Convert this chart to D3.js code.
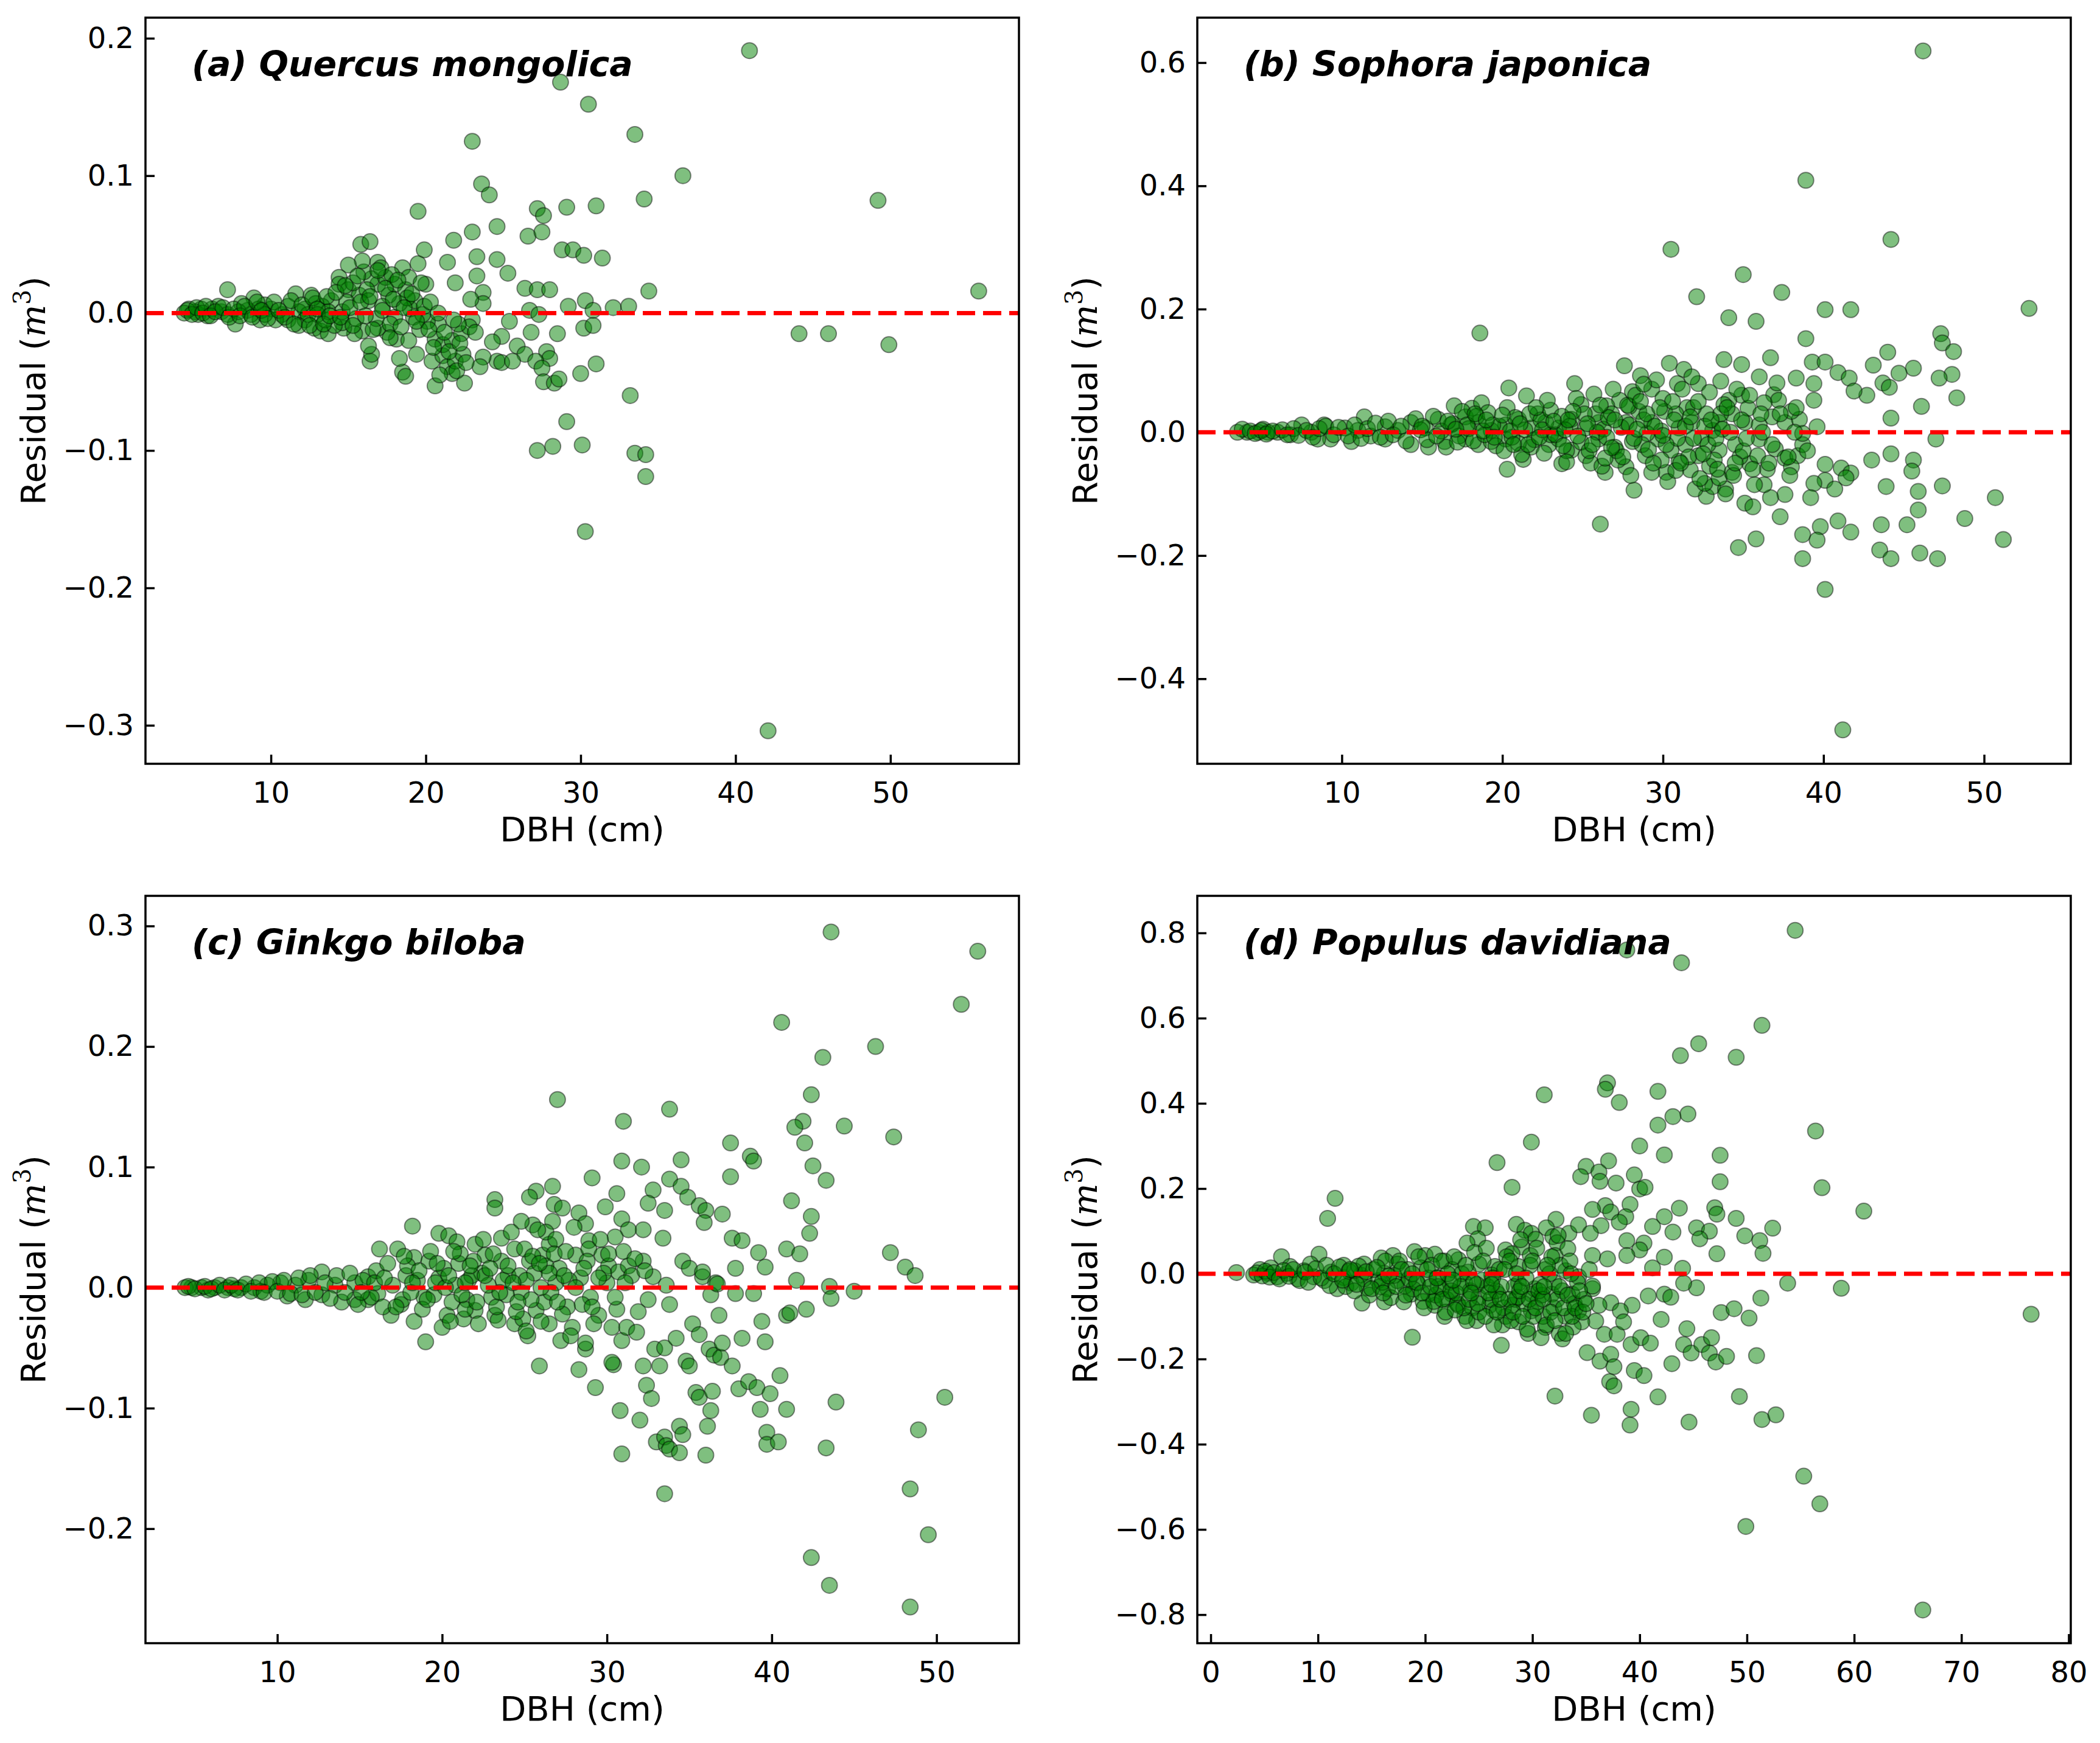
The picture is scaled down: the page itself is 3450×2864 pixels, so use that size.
<!DOCTYPE html>
<html>
<head>
<meta charset="utf-8">
<script src="https://cdn.jsdelivr.net/npm/d3@7"></script>
<style>
  body { margin: 0; background: #fff; }
  text { font-family: "DejaVu Sans", sans-serif; fill: #000; }
</style>
</head>
<body>
<svg id="chart"></svg>
<script>
// panel titles
var panelTitles = ["(a) Quercus mongolica", "(b) Sophora japonica", "(c) Ginkgo biloba", "(d) Populus davidiana"];

// [DBH (cm), residual (m3)]
var quercus = [
  [40.9,0.191],[28.7,0.168],[30.5,0.152],[23.0,0.125],[33.5,0.130],[36.6,0.100],[23.6,0.094],[24.1,0.086],[34.1,0.083],[49.2,0.082],
  [19.5,0.074],[27.2,0.076],[27.6,0.071],[29.1,0.077],[31.0,0.078],[23.0,0.059],[24.6,0.063],[26.6,0.056],[27.5,0.059],[21.8,0.053],
  [15.8,0.050],[16.4,0.052],[19.9,0.046],[28.8,0.046],[29.5,0.046],[30.2,0.042],[31.4,0.040],[21.4,0.037],[23.3,0.041],[24.6,0.039],
  [19.5,0.036],[25.3,0.029],[23.3,0.027],[21.9,0.022],[20.0,0.021],[18.5,0.033],[55.7,0.016],[34.4,0.016],[26.4,0.018],[27.2,0.017],
  [28.0,0.017],[23.7,0.015],[23.7,0.007],[30.3,0.009],[29.2,0.005],[30.8,0.002],[32.1,0.004],[33.1,0.005],[26.7,0.002],[27.3,-0.001],
  [25.4,-0.006],[23.0,-0.005],[44.1,-0.015],[46.0,-0.015],[49.9,-0.023],[30.2,-0.011],[30.8,-0.009],[28.5,-0.015],[26.8,-0.014],[25.9,-0.024],
  [24.9,-0.017],[24.3,-0.021],[26.4,-0.030],[27.8,-0.028],[28.0,-0.033],[27.1,-0.035],[31.0,-0.037],[24.6,-0.035],[24.9,-0.036],[23.7,-0.032],
  [23.5,-0.039],[27.5,-0.040],[30.0,-0.044],[27.6,-0.050],[28.3,-0.051],[28.6,-0.048],[22.5,-0.051],[20.6,-0.053],[33.2,-0.060],[29.1,-0.079],
  [27.2,-0.100],[28.2,-0.097],[30.1,-0.096],[33.5,-0.102],[34.2,-0.103],[34.2,-0.119],[30.3,-0.159],[42.1,-0.304],
  [18.5,-0.043],[18.7,-0.046],[16.4,-0.035],[16.5,-0.030],[16.3,-0.024],[19.4,-0.030],[20.4,-0.035],[21.1,-0.031],[21.4,-0.039],[21.7,-0.044],
  [21.9,-0.035],[20.6,-0.019],[21.1,-0.023],[21.7,-0.020],[22.3,-0.015],[22.8,-0.010],[22.1,-0.008],[20.8,-0.008],[20.1,-0.006],[18.3,-0.033],
  [18.1,-0.019],[17.5,-0.014],[16.9,-0.011],[15.9,-0.013],[15.4,-0.015],[14.7,-0.011],[14.6,-0.007],[15.5,-0.004],[16.8,-0.004],[18.0,-0.003],
  [19.2,-0.003],[19.8,-0.001],[19.0,0.003],[18.3,0.007],[17.6,0.013],[16.9,0.021],[16.5,0.025],[16.0,0.030],[15.9,0.038],[15.0,0.035],
  [16.9,0.037],[14.4,0.026],[14.4,0.021],[15.0,0.017],[15.7,0.013],[16.2,0.017],[17.4,0.026],[18.0,0.021],[18.7,0.017],[18.9,0.026],
  [19.3,0.009],[19.9,0.005],[13.9,0.009],[13.3,0.005],[12.6,0.013],[12.9,0.007],[12.2,0.003],[11.6,0.014],[11.8,0.001],[12.2,-0.005],
  [12.8,-0.011],[13.2,-0.013],[13.7,-0.015],[14.1,-0.009],[13.5,-0.005],[11.1,-0.005],[11.8,-0.009],[10.7,-0.001],[10.0,0.003],[9.6,0.006],
  [8.9,0.011],[9.2,0.003],[8.5,0.002],[8.1,0.007],[7.2,0.017],[7.7,-0.008],[9.3,-0.005],[10.3,-0.005],[6.8,0.001],[6.2,0.003],
  [5.5,0.003],[5.1,0.001],[4.7,0.003],[4.4,0.000],[5.3,-0.001],[5.9,-0.002],[6.6,0.005],[7.2,-0.001],[7.9,0.001],[8.7,-0.001],
  [9.6,-0.001],[11.1,0.005],[12.4,-0.001],[13.7,0.001],[14.6,0.001],[13.0,-0.001],[17.1,0.033],[17.8,0.028],[15.3,0.022],[14.9,0.008],
  [16.3,0.009],[17.2,0.005],[18.8,0.011],[17.7,-0.008],[19.6,-0.012],[20.3,0.008],[22.4,-0.030],[22.0,-0.042],[20.9,-0.045],[25.6,-0.035],
  [4.6,0.002],[4.9,-0.001],[5.2,0.004],[5.6,0.000],[5.8,0.005],[6.1,-0.002],[6.4,0.001],[6.9,0.004],[7.3,-0.003],[7.6,0.003],
  [8.0,-0.002],[8.3,0.005],[8.8,-0.003],[9.1,0.008],[9.4,0.002],[9.8,-0.004],[10.2,0.008],[10.5,0.002],[10.9,-0.003],[11.3,0.009],
  [11.5,-0.008],[12.0,0.006],[12.5,-0.009],[12.7,0.011],[13.0,0.003],[13.4,-0.008],[13.6,0.012],[13.8,-0.002],[14.2,0.015],[14.5,-0.003],
  [14.8,0.020],[15.1,0.004],[15.3,-0.009],[15.6,0.027],[15.8,0.008],[16.1,-0.002],[16.4,0.012],[16.6,-0.012],[16.9,0.031],[17.2,0.002],
  [17.4,0.018],[17.7,-0.018],[17.9,0.010],[18.2,0.024],[18.4,-0.010],[18.6,0.004],[18.9,-0.020],[19.1,0.014],[19.4,-0.006],[19.7,0.022],
  [20.2,-0.012],[20.5,-0.025],[20.8,0.000],[21.2,-0.014],[21.5,-0.028],[21.8,-0.005],[22.2,-0.022],[22.6,-0.036],[22.9,0.010],[23.2,-0.014]
];

var sophora = [
  [46.2,0.619],[38.9,0.409],[30.5,0.297],[44.2,0.313],[35.0,0.256],[32.1,0.220],[37.4,0.227],[52.8,0.201],[40.1,0.199],[41.7,0.199],
  [18.6,0.161],[34.1,0.186],[35.8,0.180],[38.9,0.152],[47.3,0.160],[47.4,0.145],[48.1,0.131],[44.0,0.130],[36.7,0.121],[33.8,0.118],
  [30.4,0.112],[34.9,0.110],[39.3,0.114],[40.1,0.114],[43.1,0.109],[45.6,0.104],[44.7,0.096],[40.9,0.097],[41.6,0.088],[48.0,0.094],
  [47.2,0.088],[31.3,0.102],[27.6,0.108],[28.6,0.092],[36.0,0.090],[38.3,0.088],[33.6,0.083],[32.2,0.079],[24.5,0.079],[39.4,0.079],
  [43.7,0.080],[42.7,0.060],[41.9,0.067],[48.3,0.056],[44.1,0.073],[39.4,0.052],[36.9,0.061],[37.2,0.052],[34.9,0.060],[34.1,0.052],
  [30.9,0.079],[20.4,0.072],[21.5,0.059],[29.3,0.070],[28.1,0.066],[27.3,0.052],[26.5,0.043],[46.1,0.042],[44.2,0.023],[39.6,0.009],
  [47.0,-0.011],[44.2,-0.035],[45.6,-0.045],[45.5,-0.063],[43.0,-0.045],[40.1,-0.052],[41.1,-0.058],[40.1,-0.078],[41.7,-0.066],[41.4,-0.074],
  [40.7,-0.092],[47.4,-0.087],[45.9,-0.096],[50.7,-0.106],[43.9,-0.088],[45.9,-0.126],[39.4,-0.083],[39.2,-0.106],[48.8,-0.140],[37.3,-0.137],
  [39.8,-0.153],[43.6,-0.150],[45.2,-0.150],[40.9,-0.144],[41.7,-0.162],[38.7,-0.166],[39.6,-0.175],[51.2,-0.174],[35.8,-0.173],[34.7,-0.187],
  [43.5,-0.191],[46.0,-0.196],[38.7,-0.205],[44.2,-0.205],[47.1,-0.205],[40.1,-0.255],[41.2,-0.483],[26.1,-0.149],[20.3,-0.060],[21.3,-0.044],
  [23.7,-0.051],[26.4,-0.065],[28.2,-0.094],[32.7,-0.104],[33.1,-0.088],[33.9,-0.092],[34.3,-0.065],[35.4,-0.051],[35.1,-0.115],[35.6,-0.121],
  [37.6,-0.101],[36.7,-0.106],[36.3,-0.085],[37.0,-0.027],[37.6,-0.042],[38.4,-0.038],[38.7,-0.020],[38.0,-0.056],[35.9,-0.038],[31.7,-0.061],
  [31.0,-0.047],[30.2,-0.065],[29.3,-0.065],[28.9,-0.038],[27.7,-0.056],[27.0,-0.024],[25.2,-0.038],[24.3,-0.029],[22.9,-0.020],[21.8,-0.024],
  [21.0,-0.018],[31.4,-0.020],[32.2,-0.038],[33.5,-0.029],[34.5,-0.020],[33.1,0.003],[31.8,0.016],[32.7,0.030],[33.5,0.016],[34.3,0.030],
  [35.1,0.016],[36.0,0.012],[36.8,0.025],[35.3,0.039],[36.3,0.048],[37.6,0.016],[38.5,0.021],[38.0,0.034],[36.0,-0.011],[38.7,-0.002],
  [31.0,0.007],[30.1,0.034],[29.3,0.016],[28.5,0.034],[27.7,0.016],[26.8,0.030],[26.0,0.016],[25.2,0.007],[24.3,0.021],[23.5,0.007],
  [22.7,0.016],[21.8,0.007],[21.0,0.021],[20.2,0.012],[19.3,0.003],[18.5,0.016],[17.7,0.025],[17.0,0.043],[18.1,0.039],[18.7,0.048],
  [16.8,0.012],[16.0,0.021],[15.2,0.007],[14.3,0.016],[13.5,0.003],[12.7,0.009],[11.8,-0.006],[11.4,0.025],[11.0,0.003],[10.2,0.007],
  [9.3,-0.011],[8.9,0.012],[8.1,0.000],[7.5,0.012],[6.8,-0.004],[6.0,0.000],[5.4,0.000],[4.8,0.000],[4.1,0.000],[3.5,0.000],
  [3.8,0.005],[5.1,0.005],[8.5,-0.011],[10.6,-0.015],[12.7,-0.011],[14.3,-0.020],[15.4,-0.024],[16.4,-0.015],[17.7,-0.011],[18.5,-0.020],
  [19.3,-0.015],[20.2,-0.011],[23.5,-0.011],[26.0,-0.011],[28.1,-0.015],[29.7,-0.011],[30.5,-0.029],[32.0,-0.092],[32.6,-0.083],[33.5,-0.074],
  [24.9,0.045],[25.8,0.030],[26.3,0.005],[27.9,0.042],[29.0,-0.002],[30.0,0.055],[31.5,0.040],[32.4,-0.010],[33.8,0.045],[34.8,-0.040],
  [22.2,0.030],[23.0,-0.004],[24.0,-0.030],[25.5,-0.050],[27.2,-0.045],[28.8,0.020],[29.9,-0.045],[30.8,0.030],[32.9,-0.055],[36.5,-0.060],
  [4.3,0.002],[4.6,-0.002],[5.0,0.003],[5.3,-0.003],[5.7,0.002],[6.3,0.004],[6.6,-0.004],[7.0,0.006],[7.3,-0.005],[7.8,0.003],
  [8.2,-0.008],[8.6,0.006],[9.0,0.010],[9.5,-0.004],[9.8,0.008],[10.4,-0.006],[10.8,0.012],[11.2,-0.010],[11.6,0.006],[12.1,0.015],
  [12.4,-0.008],[12.9,0.018],[13.2,-0.004],[13.7,0.010],[14.0,-0.014],[14.6,0.022],[14.9,0.004],[15.3,-0.012],[15.7,0.026],[16.2,0.002],
  [16.5,-0.024],[16.9,0.014],[17.3,-0.006],[17.5,0.034],[17.9,0.006],[18.2,-0.014],[18.4,0.026],[18.9,-0.004],[19.1,0.032],[19.6,-0.022],
  [19.8,0.010],[20.3,0.040],[20.6,-0.008],[20.8,0.024],[21.2,-0.036],[21.4,0.004],[21.7,0.030],[22.0,-0.012],[22.4,0.020],[22.6,-0.034],
  [23.0,0.036],[23.3,-0.004],[23.7,0.026],[24.0,-0.048],[24.2,0.010],[24.6,0.055],[24.9,-0.016],[25.1,0.030],[25.4,-0.030],[25.7,0.062],
  [25.9,0.000],[26.2,-0.055],[26.6,0.024],[26.9,0.070],[27.1,-0.030],[27.4,0.008],[27.8,0.044],[28.0,-0.070],[28.3,0.060],[28.7,-0.020],
  [29.0,0.030],[29.4,-0.050],[29.6,0.085],[29.9,0.002],[30.3,-0.080],[30.6,0.050],[30.9,-0.010],[31.2,0.070],[31.6,-0.040],[31.9,0.040],
  [32.3,-0.075],[32.6,0.010],[32.9,0.065],[33.2,-0.045],[33.6,0.030],[33.9,-0.100],[34.2,0.000],[34.6,0.070],[35.0,-0.030],[35.4,0.060],
  [35.7,-0.085],[36.1,0.030],[36.6,-0.050],[37.1,0.080],[37.9,-0.070],[38.3,0.040],[39.0,-0.030],[20.1,-0.030],[22.8,0.052],[26.4,-0.042],
  [28.8,0.078],[30.8,-0.062],[31.8,0.090],[32.8,-0.020],[34.4,-0.070],[23.9,0.004],[19.4,0.012],
  [15.0,0.010],[15.9,-0.006],[16.6,0.018],[17.2,-0.016],[17.8,0.012],[18.3,0.030],[18.8,0.002],[19.5,-0.008],[20.0,0.028],[20.5,0.002],
  [21.1,0.014],[21.6,-0.020],[22.1,0.040],[22.5,0.004],[23.2,0.018],[23.8,-0.022],[24.4,0.034],[24.7,-0.006],[25.3,0.014],[25.6,-0.020],
  [26.1,0.044],[26.5,-0.008],[27.0,0.020],[27.5,-0.040],[27.9,0.012],[28.2,-0.010],[28.6,0.050],[29.1,-0.028],[29.5,0.010],[29.8,0.040],
  [30.2,-0.020],[30.7,0.020],[31.1,-0.050],[31.4,0.010],[31.9,-0.010],[32.2,0.050],[32.5,-0.035],[33.0,0.020],[33.4,-0.060],[33.7,0.005],
  [34.0,0.040],[34.5,-0.050],[34.9,0.020],[35.2,-0.010],[35.6,-0.060],[36.2,0.000],[36.8,-0.020],[37.3,0.030],[37.8,-0.040],[38.2,0.000],
  [26.8,-0.025],[28.4,0.005],[30.0,-0.005],[31.7,0.025],[33.3,-0.010],[24.1,0.020],[22.3,-0.008],[20.7,-0.020],[19.0,0.020],[17.1,0.005]
];

var ginkgo = [
  [43.6,0.295],[52.5,0.279],[51.5,0.235],[40.6,0.220],[46.3,0.200],[43.1,0.191],[42.4,0.160],[27.0,0.156],[33.8,0.148],[31.0,0.138],
  [41.9,0.138],[41.4,0.133],[44.4,0.134],[47.4,0.125],[37.5,0.120],[42.0,0.120],[38.7,0.109],[38.9,0.105],[30.9,0.105],[34.5,0.106],
  [42.5,0.101],[32.1,0.100],[29.1,0.091],[33.8,0.090],[37.5,0.092],[43.3,0.089],[26.7,0.084],[32.8,0.081],[34.5,0.084],[25.7,0.080],
  [25.3,0.075],[30.6,0.078],[23.2,0.073],[23.2,0.066],[34.9,0.075],[41.2,0.072],[26.8,0.069],[27.3,0.066],[29.9,0.067],[32.5,0.070],
  [33.5,0.064],[35.6,0.068],[36.0,0.064],[37.0,0.061],[26.7,0.055],[28.3,0.062],[25.5,0.052],[30.9,0.057],[42.4,0.059],[35.9,0.054],
  [28.7,0.053],[18.2,0.051],[19.8,0.045],[20.4,0.043],[32.2,0.048],[31.3,0.048],[42.3,0.045],[37.6,0.041],[38.2,0.039],[33.4,0.041],
  [28.9,0.039],[30.5,0.042],[39.2,0.029],[40.9,0.032],[41.7,0.028],[47.2,0.029],[48.1,0.017],[48.7,0.010],[39.6,0.017],[37.8,0.016],
  [34.6,0.022],[35.0,0.016],[41.5,0.006],[43.5,0.001],[45.0,-0.003],[43.6,-0.009],[16.2,0.032],[17.3,0.032],[18.3,0.025],[19.2,0.022],
  [21.0,0.020],[22.0,0.036],[22.6,0.027],[23.6,0.041],[24.4,0.032],[25.3,0.022],[26.1,0.027],[26.5,0.036],[27.1,0.016],[28.1,0.027],
  [28.9,0.032],[29.7,0.027],[30.1,0.018],[30.7,0.013],[31.3,0.018],[32.2,0.022],[32.8,0.009],[33.6,0.002],[35.8,0.009],[36.6,0.004],
  [36.3,-0.006],[37.8,-0.005],[14.7,0.004],[15.5,0.009],[13.5,0.002],[12.7,0.013],[11.9,0.006],[11.1,0.002],[10.2,0.004],[9.4,0.002],
  [8.6,0.000],[7.8,0.000],[7.0,0.000],[6.2,0.000],[5.4,0.000],[4.8,0.000],[4.4,0.000],[5.8,-0.002],[7.4,-0.001],[9.0,-0.003],
  [10.6,-0.007],[11.7,-0.010],[12.7,-0.006],[13.9,-0.012],[14.7,-0.010],[15.5,-0.010],[16.1,-0.005],[16.9,-0.023],[17.5,-0.014],[18.3,-0.028],
  [19.0,-0.045],[20.0,-0.033],[20.3,-0.023],[21.3,-0.026],[22.0,-0.019],[23.2,-0.023],[23.4,-0.027],[24.4,-0.030],[24.9,-0.026],[25.7,-0.019],
  [25.9,-0.065],[26.5,-0.030],[27.2,-0.044],[27.9,-0.033],[28.3,-0.068],[28.7,-0.051],[28.7,-0.046],[29.3,-0.083],[29.5,-0.023],[30.3,-0.033],
  [30.4,-0.064],[30.3,-0.062],[30.9,-0.044],[31.2,-0.033],[30.8,-0.102],[30.9,-0.138],[31.8,-0.037],[32.2,-0.065],[32.4,-0.081],[32.7,-0.092],
  [32.0,-0.110],[32.5,-0.010],[32.9,-0.051],[33.2,-0.065],[33.0,-0.128],[33.5,-0.124],[33.6,-0.131],[33.5,-0.171],[33.5,-0.050],[33.8,-0.014],
  [33.8,-0.134],[34.4,-0.137],[34.4,-0.115],[34.6,-0.122],[34.2,-0.042],[34.8,-0.061],[35.0,-0.065],[35.2,-0.030],[35.4,-0.087],[35.6,-0.039],
  [35.6,-0.091],[36.0,-0.139],[36.1,-0.115],[36.3,-0.102],[36.2,-0.051],[36.4,-0.086],[36.5,-0.056],[36.9,-0.058],[36.8,-0.023],[37.0,-0.046],
  [37.6,-0.065],[38.0,-0.084],[38.2,-0.042],[38.6,-0.078],[39.1,-0.083],[38.9,-0.005],[39.4,-0.028],[39.3,-0.101],[39.7,-0.120],[39.7,-0.130],
  [39.6,-0.045],[39.9,-0.088],[40.4,-0.128],[40.5,-0.073],[40.9,-0.101],[40.9,-0.023],[41.1,-0.021],[42.1,-0.018],[43.3,-0.133],[42.4,-0.224],
  [43.5,-0.247],[43.9,-0.095],[48.4,-0.167],[48.9,-0.118],[49.5,-0.205],[48.4,-0.265],[50.5,-0.091],[35.8,0.013],[36.7,0.003],
  [17.8,0.010],[18.9,-0.008],[19.8,0.008],[20.6,-0.012],[21.6,0.006],[22.4,0.012],[23.0,-0.008],[24.0,0.010],[24.8,-0.004],[25.6,0.012],
  [26.2,-0.012],[26.9,0.004],[27.6,-0.016],[28.4,0.008],[29.0,-0.008],[20.9,0.038],[24.8,0.055],[26.3,0.046],[21.5,-0.010],[25.2,-0.040],
  [4.6,0.001],[5.0,-0.001],[5.6,0.001],[6.0,-0.001],[6.5,0.002],[6.8,-0.002],[7.2,0.002],[7.6,-0.002],[8.1,0.003],[8.4,-0.003],
  [8.9,0.004],[9.2,-0.004],[9.7,0.005],[10.0,-0.003],[10.4,0.006],[10.8,-0.005],[11.3,0.008],[11.5,-0.006],[12.0,0.010],[12.3,-0.004],
  [12.9,0.004],[13.2,-0.009],[13.6,0.010],[14.1,-0.004],[14.4,0.012],[14.9,-0.014],[15.2,0.006],[15.7,-0.008],[16.0,0.014],[16.4,-0.016],
  [16.7,0.020],[17.0,0.002],[17.6,-0.010],[17.9,0.018],[18.5,0.006],[18.8,-0.018],[19.3,0.030],[19.5,-0.006],[20.1,0.016],[20.5,-0.028],
  [20.8,0.002],[21.1,0.028],[21.4,-0.018],[21.8,0.010],[22.2,-0.030],[22.5,0.040],[22.8,0.002],[23.3,-0.016],[23.6,0.022],[23.9,-0.006],
  [24.2,0.046],[24.5,-0.020],[24.7,0.010],[25.0,0.032],[25.4,-0.010],[25.8,0.048],[26.0,-0.028],[26.3,0.018],[26.6,-0.004],[26.9,0.040],
  [27.3,-0.022],[27.7,0.006],[28.0,0.050],[28.5,-0.014],[28.8,0.022],[29.2,-0.030],[29.6,0.040],[30.0,0.004],[30.6,-0.018],[31.0,0.030],
  [31.5,0.010],[31.9,-0.020],[32.3,0.014],[19.6,0.004],[21.9,0.022],[23.7,0.006],[25.1,-0.036],[26.8,0.028],[27.8,-0.040],[29.8,0.012],
  [15.1,-0.004],[15.9,0.004],[16.5,0.008],[17.2,-0.016],[17.7,0.026],[18.1,-0.004],[18.6,0.014],[19.1,-0.010],[19.7,0.020],[20.2,0.000],
  [20.7,0.030],[21.2,-0.006],[21.7,0.018],[22.1,-0.012],[22.6,0.010],[23.1,0.028],[23.5,-0.004],[24.0,0.018],[24.6,-0.012],[25.1,0.006],
  [25.5,0.026],[26.0,0.000],[26.5,0.012],[27.0,-0.012],[27.5,0.030],[28.1,0.000],[28.6,0.016],[29.1,-0.016],[29.5,0.008],[30.1,0.028],
  [30.5,-0.008],[31.1,0.004],[31.7,0.024],[22.9,0.016],[24.3,0.004],[25.9,0.020],[27.4,0.010],[20.4,0.010],[21.4,0.004],[18.2,0.004]
];

var populus = [
  [54.5,0.806],[38.8,0.760],[43.9,0.730],[51.4,0.583],[45.5,0.540],[43.8,0.512],[49.0,0.508],[37.0,0.448],[36.8,0.433],[31.1,0.420],
  [41.7,0.428],[38.1,0.402],[44.5,0.375],[43.1,0.369],[41.7,0.349],[56.4,0.335],[29.9,0.309],[40.0,0.300],[47.5,0.278],[42.3,0.279],
  [26.7,0.261],[37.1,0.265],[35.0,0.252],[34.5,0.228],[36.2,0.239],[39.5,0.232],[36.3,0.217],[37.8,0.213],[47.5,0.216],[28.1,0.203],
  [57.0,0.202],[40.0,0.199],[40.5,0.203],[11.6,0.177],[10.9,0.130],[60.9,0.147],[39.1,0.163],[36.8,0.160],[35.6,0.151],[43.7,0.154],
  [47.0,0.155],[47.2,0.140],[37.3,0.145],[38.7,0.134],[38.1,0.121],[36.4,0.113],[42.3,0.134],[41.2,0.111],[45.3,0.108],[52.4,0.107],
  [49.0,0.130],[46.5,0.100],[43.1,0.098],[32.2,0.128],[31.3,0.108],[24.5,0.111],[25.6,0.108],[28.5,0.116],[29.3,0.102],[29.9,0.095],
  [33.4,0.095],[34.3,0.115],[35.4,0.095],[31.9,0.087],[32.3,0.073],[30.3,0.081],[24.9,0.082],[23.9,0.072],[29.0,0.063],[27.5,0.056],
  [28.1,0.047],[29.8,0.043],[32.1,0.043],[33.3,0.059],[38.8,0.078],[40.4,0.072],[40.0,0.056],[38.8,0.043],[49.8,0.089],[51.2,0.078],
  [51.5,0.048],[47.2,0.047],[45.6,0.082],[42.3,0.039],[44.0,0.013],[41.2,0.014],[37.0,0.035],[35.6,0.043],[53.8,-0.022],[58.8,-0.034],
  [76.5,-0.095],[51.3,-0.057],[45.3,-0.033],[44.1,-0.022],[42.3,-0.048],[42.9,-0.055],[40.8,-0.052],[39.3,-0.074],[37.3,-0.068],[38.2,-0.087],
  [35.6,-0.035],[36.2,-0.074],[47.6,-0.091],[48.8,-0.082],[50.2,-0.104],[42.0,-0.107],[44.4,-0.129],[35.9,-0.111],[36.7,-0.142],[37.9,-0.142],
  [38.5,-0.113],[39.2,-0.166],[40.1,-0.150],[41.0,-0.163],[44.1,-0.166],[44.8,-0.186],[45.8,-0.166],[46.7,-0.150],[46.5,-0.186],[47.1,-0.207],
  [48.1,-0.194],[50.9,-0.192],[35.1,-0.185],[36.3,-0.205],[37.3,-0.189],[37.6,-0.218],[37.2,-0.253],[37.6,-0.263],[39.5,-0.227],[40.4,-0.239],
  [43.0,-0.211],[41.7,-0.289],[32.1,-0.287],[35.5,-0.332],[39.2,-0.318],[39.1,-0.355],[44.6,-0.348],[49.3,-0.288],[51.4,-0.342],[52.7,-0.331],
  [55.3,-0.475],[56.8,-0.540],[49.9,-0.593],[66.4,-0.789],[18.8,-0.149],[27.1,-0.168],[14.1,-0.069],[16.2,-0.066],[2.4,0.003],[6.6,0.040],
  [10.1,0.046],[19.0,0.052],[20.0,0.043],[20.9,0.046],[17.0,0.043],[15.9,0.037],[23.1,0.033],[21.8,0.030],[25.0,0.023],[26.5,0.017],
  [28.7,0.017],[31.2,0.010],[33.1,0.007],[34.3,-0.007],[35.6,-0.029],[33.7,-0.048],[34.3,-0.087],[34.6,-0.113],[33.1,-0.100],[32.5,-0.140],
  [31.2,-0.126],[32.8,-0.153],[31.0,-0.100],[29.6,-0.140],[29.9,-0.087],[28.7,-0.113],[28.1,-0.074],[27.5,-0.100],[26.8,-0.048],[26.0,-0.074],
  [25.0,-0.055],[23.7,-0.100],[23.1,-0.074],[22.5,-0.048],[21.8,-0.100],[20.9,-0.074],[20.3,-0.048],[19.3,-0.022],[18.7,-0.048],[18.1,-0.029],
  [17.4,-0.016],[16.5,-0.035],[15.6,-0.016],[14.6,-0.033],[14.0,-0.003],[13.1,-0.022],[12.4,-0.009],[11.8,-0.035],[11.2,0.004],[10.6,-0.016],
  [9.6,-0.007],[8.7,0.007],[8.1,-0.012],[7.1,0.001],[6.2,-0.007],[5.3,0.001],[4.6,0.010],[4.0,-0.003],[5.6,0.014],[7.4,0.017],
  [9.3,0.023],[12.4,0.020],[14.3,0.023],[17.4,0.023],[19.6,0.014],[22.5,0.010],[24.0,0.004],[26.2,-0.003],[28.7,-0.022],[29.9,-0.048],
  [31.8,-0.048],[23.7,-0.022],[21.2,-0.009],[16.2,0.001],[13.4,0.007],[22.0,-0.060],[24.4,-0.080],[25.8,-0.030],[27.2,-0.120],[30.5,-0.065],
  [32.0,-0.020],[33.8,-0.125],[30.2,-0.035],[19.8,-0.065],[21.5,-0.035],[24.8,-0.110],[26.4,-0.085],[28.4,-0.060],[30.8,-0.150],[32.6,0.020],
  [4.3,0.002],[4.8,-0.005],[5.1,0.006],[5.5,-0.008],[5.9,0.003],[6.4,-0.012],[6.8,0.008],[7.3,-0.006],[7.7,0.010],[8.3,-0.016],
  [8.8,0.004],[9.1,-0.020],[9.8,0.012],[10.3,-0.010],[10.8,0.020],[11.1,-0.028],[11.5,0.000],[12.0,0.016],[12.6,-0.030],[12.9,0.006],
  [13.4,-0.040],[13.8,0.018],[14.3,-0.012],[14.8,-0.050],[15.2,0.010],[15.8,-0.030],[16.3,0.030],[16.8,-0.056],[17.1,-0.004],[17.6,0.030],
  [18.0,-0.066],[18.4,0.010],[18.9,-0.036],[19.4,0.040],[19.9,-0.080],[20.3,-0.010],[20.6,0.020],[21.0,-0.050],[21.5,0.030],[21.9,-0.090],
  [22.3,-0.020],[22.7,0.040],[23.0,-0.070],[23.4,0.000],[23.9,-0.110],[24.2,-0.040],[24.6,0.050],[25.0,-0.090],[25.3,-0.015],[25.7,0.060],
  [26.1,-0.060],[26.4,-0.120],[26.9,0.010],[27.3,-0.080],[27.6,0.040],[28.0,-0.110],[28.3,-0.030],[28.9,0.080],[29.2,-0.070],[29.5,-0.130],
  [29.8,0.020],[30.1,-0.100],[30.4,0.060],[30.9,-0.050],[31.3,-0.120],[31.6,0.000],[32.0,-0.080],[32.4,0.090],[32.8,-0.040],[33.1,-0.140],
  [33.5,0.030],[33.9,-0.070],[34.2,-0.020],[34.8,-0.060],[35.3,0.010],[16.0,-0.020],[18.5,-0.012],[21.2,-0.030],[22.9,-0.045],[24.8,-0.025],
  [26.6,-0.040],[28.6,-0.055],[30.7,-0.025],[32.3,-0.060],[33.7,-0.100],[27.9,0.030],[31.8,0.040],[25.6,-0.100],[23.6,-0.080],[20.8,-0.065],
  [12.3,-0.015],[13.0,0.010],[13.6,-0.025],[14.5,0.005],[15.0,-0.035],[15.5,0.015],[16.1,-0.045],[16.6,-0.005],[17.3,-0.030],[17.8,0.010],
  [18.2,-0.050],[18.8,0.000],[19.2,-0.020],[19.7,-0.045],[20.2,0.010],[20.5,-0.030],[21.1,-0.010],[21.6,-0.060],[22.1,0.000],[22.4,-0.040],
  [22.8,-0.085],[23.3,-0.030],[23.8,0.020],[24.1,-0.060],[24.5,-0.020],[24.9,-0.070],[25.4,0.030],[25.9,-0.045],[26.3,-0.010],[26.7,-0.090],
  [27.1,-0.030],[27.4,0.010],[27.8,-0.060],[28.2,-0.090],[28.5,0.000],[28.8,-0.040],[29.1,-0.100],[29.4,-0.010],[29.7,-0.060],[30.0,0.030],
  [30.3,-0.080],[30.6,-0.040],[31.0,-0.060],[31.4,0.020],[31.7,-0.090],[32.1,-0.110],[32.5,-0.030],[32.9,-0.080],[33.3,-0.050],[33.6,0.000],
  [34.0,-0.080],[34.4,-0.040],[34.7,-0.090],[35.0,-0.070],[27.0,-0.060],[29.0,-0.030],[31.1,-0.030],[26.2,-0.025],[24.3,-0.045],[22.6,-0.015]
];

var panelData = [quercus, sophora, ginkgo, populus];

// axis limits and ticks
var xLimits = [[1.9, 58.3], [1.0, 55.4], [2.0, 55.0], [-1.25, 80.2]];
var yLimits = [[-0.328, 0.215], [-0.538, 0.673], [-0.295, 0.325], [-0.867, 0.887]];
var xTicks = [
  [10, 20, 30, 40, 50],
  [10, 20, 30, 40, 50],
  [10, 20, 30, 40, 50],
  [0, 10, 20, 30, 40, 50, 60, 70, 80]
];
var yTicks = [
  [-0.3, -0.2, -0.1, 0.0, 0.1, 0.2],
  [-0.4, -0.2, 0.0, 0.2, 0.4, 0.6],
  [-0.2, -0.1, 0.0, 0.1, 0.2, 0.3],
  [-0.8, -0.6, -0.4, -0.2, 0.0, 0.2, 0.4, 0.6, 0.8]
];

var width = 3450;
var height = 2864;

// axes boxes in pixels
var boxes = [
  {left: 239,  right: 1674, top: 29,   bottom: 1255},
  {left: 1967, right: 3402, top: 29,   bottom: 1255},
  {left: 239,  right: 1674, top: 1472, bottom: 2700},
  {left: 1967, right: 3402, top: 1472, bottom: 2700}
];

var svg = d3.select('#chart')
            .attr('width', width)
            .attr('height', height);

var fmtY = function (d) { return d3.format('.1f')(d).replace('-', '\u2212'); };

function drawPanel(i) {
  var box = boxes[i];
  var w = box.right - box.left;
  var h = box.bottom - box.top;

  var xScale = d3.scaleLinear().domain(xLimits[i]).range([0, w]);
  var yScale = d3.scaleLinear().domain(yLimits[i]).range([h, 0]);

  var g = svg.append('g')
             .attr('transform', 'translate(' + box.left + ',' + box.top + ')');

  // inward ticks
  var xAxis = d3.axisBottom(xScale).tickValues(xTicks[i]).tickSize(-15).tickPadding(30).tickFormat(d3.format('d'));
  var yAxis = d3.axisLeft(yScale).tickValues(yTicks[i]).tickSize(-15).tickPadding(19).tickFormat(fmtY);

  var gx = g.append('g')
            .attr('class', 'x_axis')
            .attr('transform', 'translate(0,' + h + ')')
            .call(xAxis);
  var gy = g.append('g')
            .attr('class', 'y_axis')
            .call(yAxis);

  [gx, gy].forEach(function (ax) {
    ax.select('.domain').remove();
    ax.selectAll('.tick line').attr('stroke', '#000').attr('stroke-width', 3.5);
    ax.selectAll('.tick text')
      .style('font-family', '"DejaVu Sans", sans-serif')
      .style('font-size', '48px')
      .attr('fill', '#000');
  });

  var clipId = 'clip' + i;
  g.append('clipPath').attr('id', clipId)
   .append('rect').attr('width', w).attr('height', h);

  var plot = g.append('g').attr('clip-path', 'url(#' + clipId + ')');

  plot.selectAll('circle')
      .data(panelData[i])
      .enter()
      .append('circle')
      .attr('cx', function (d) { return xScale(d[0]); })
      .attr('cy', function (d) { return yScale(d[1]); })
      .attr('r', 13)
      .style('fill', '#008000')
      .style('fill-opacity', 0.5)
      .style('stroke', '#000')
      .style('stroke-opacity', 0.45)
      .style('stroke-width', 2);

  // zero line
  plot.append('line')
      .attr('x1', 0)
      .attr('x2', w)
      .attr('y1', yScale(0))
      .attr('y2', yScale(0))
      .attr('stroke', '#ff0000')
      .attr('stroke-width', 7)
      .attr('stroke-dasharray', '30 13');

  // frame
  g.append('rect')
   .attr('width', w)
   .attr('height', h)
   .attr('fill', 'none')
   .attr('stroke', '#000')
   .attr('stroke-width', 3.5);

  g.append('text')
   .attr('x', 76)
   .attr('y', 96)
   .style('font-size', '57px')
   .style('font-weight', 'bold')
   .style('font-style', 'italic')
   .text(panelTitles[i]);

  g.append('text')
   .attr('x', w / 2)
   .attr('y', h + 127)
   .attr('text-anchor', 'middle')
   .style('font-size', '56px')
   .text('DBH (cm)');

  var ylab = g.append('text')
              .attr('transform', 'translate(-165,' + (h / 2) + ') rotate(-90)')
              .attr('text-anchor', 'middle')
              .style('font-size', '56px');
  ylab.append('tspan').text('Residual (');
  ylab.append('tspan')
      .style('font-family', '"DejaVu Serif", serif')
      .style('font-style', 'italic')
      .text('m');
  ylab.append('tspan')
      .attr('dy', -24)
      .style('font-family', '"DejaVu Serif", serif')
      .style('font-size', '39px')
      .text('3');
  ylab.append('tspan')
      .attr('dy', 24)
      .text(')');
}

for (var i = 0; i < 4; i++) {
  drawPanel(i);
}
</script>
</body>
</html>
